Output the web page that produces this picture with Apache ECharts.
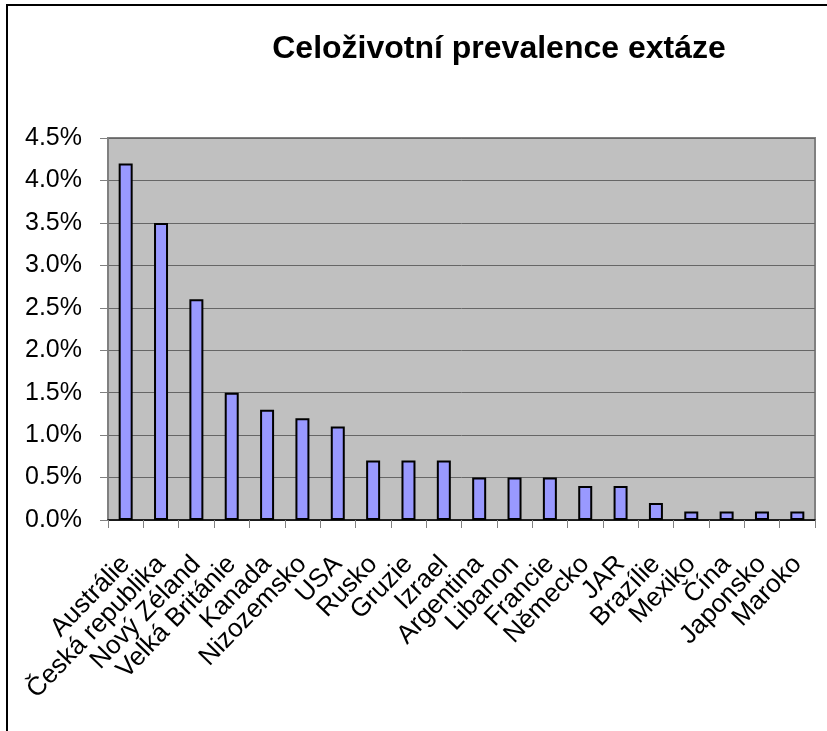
<!DOCTYPE html>
<html>
<head>
<meta charset="utf-8">
<script src="https://cdn.jsdelivr.net/npm/echarts@6/dist/echarts.min.js"></script>
<style>
html,body{margin:0;padding:0;background:#fff;}
#c{width:827px;height:731px;}
</style>
</head>
<body>
<div id="c"></div>
<script>
const categories = ["Austrálie","Česká republika","Nový Zéland","Velká Británie","Kanada","Nizozemsko","USA","Rusko","Gruzie","Izrael","Argentina","Libanon","Francie","Německo","JAR","Brazílie","Mexiko","Čína","Japonsko","Maroko"];
const values = [4.2,3.5,2.6,1.5,1.3,1.2,1.1,0.7,0.7,0.7,0.5,0.5,0.5,0.4,0.4,0.2,0.1,0.1,0.1,0.1];
const titleText = "Celoživotní prevalence extáze";

const chart = echarts.init(document.getElementById('c'));
const font = "Liberation Sans, Arial, sans-serif";
chart.setOption({
  animation: false,
  backgroundColor: '#ffffff',
  title: {
    text: titleText,
    left: 494, top: 28,
    textAlign: 'center',
    textStyle: {fontFamily: font, fontSize: 32, fontWeight: 'bold', color: '#000'}
  },
  graphic: [{
    type: 'rect', shape: {x: 7, y: 5, width: 900, height: 800},
    style: {fill: 'none', stroke: '#000', lineWidth: 2}, silent: true, z: 100
  }],
  grid: {
    left: 108, right: 12, top: 138, bottom: 211,
    show: true, backgroundColor: '#c0c0c0', borderColor: '#808080', borderWidth: 2
  },
  xAxis: {
    type: 'category', data: categories,
    axisLine: {lineStyle: {color: '#000', width: 1.5}},
    axisTick: {show: true, length: 8, interval: 0, lineStyle: {color: '#808080'}},
    axisLabel: {interval: 0, rotate: 46, margin: 40, fontFamily: font, fontSize: 26, color: '#000'}
  },
  yAxis: {
    type: 'value', min: 0, max: 4.5, interval: 0.5,
    axisLine: {show: true, lineStyle: {color: '#808080', width: 1.5}},
    axisTick: {show: true, length: 8, lineStyle: {color: '#808080'}},
    axisLabel: {margin: 26, fontFamily: font, fontSize: 25, color: '#000', formatter: v => v.toFixed(1) + '%'},
    splitLine: {show: true, lineStyle: {color: '#666666', width: 1}}
  },
  series: [{
    type: 'bar', data: values, barWidth: 14,
    itemStyle: {color: '#9999ff', borderColor: '#000', borderWidth: 2}
  }]
});
</script>
</body>
</html>
